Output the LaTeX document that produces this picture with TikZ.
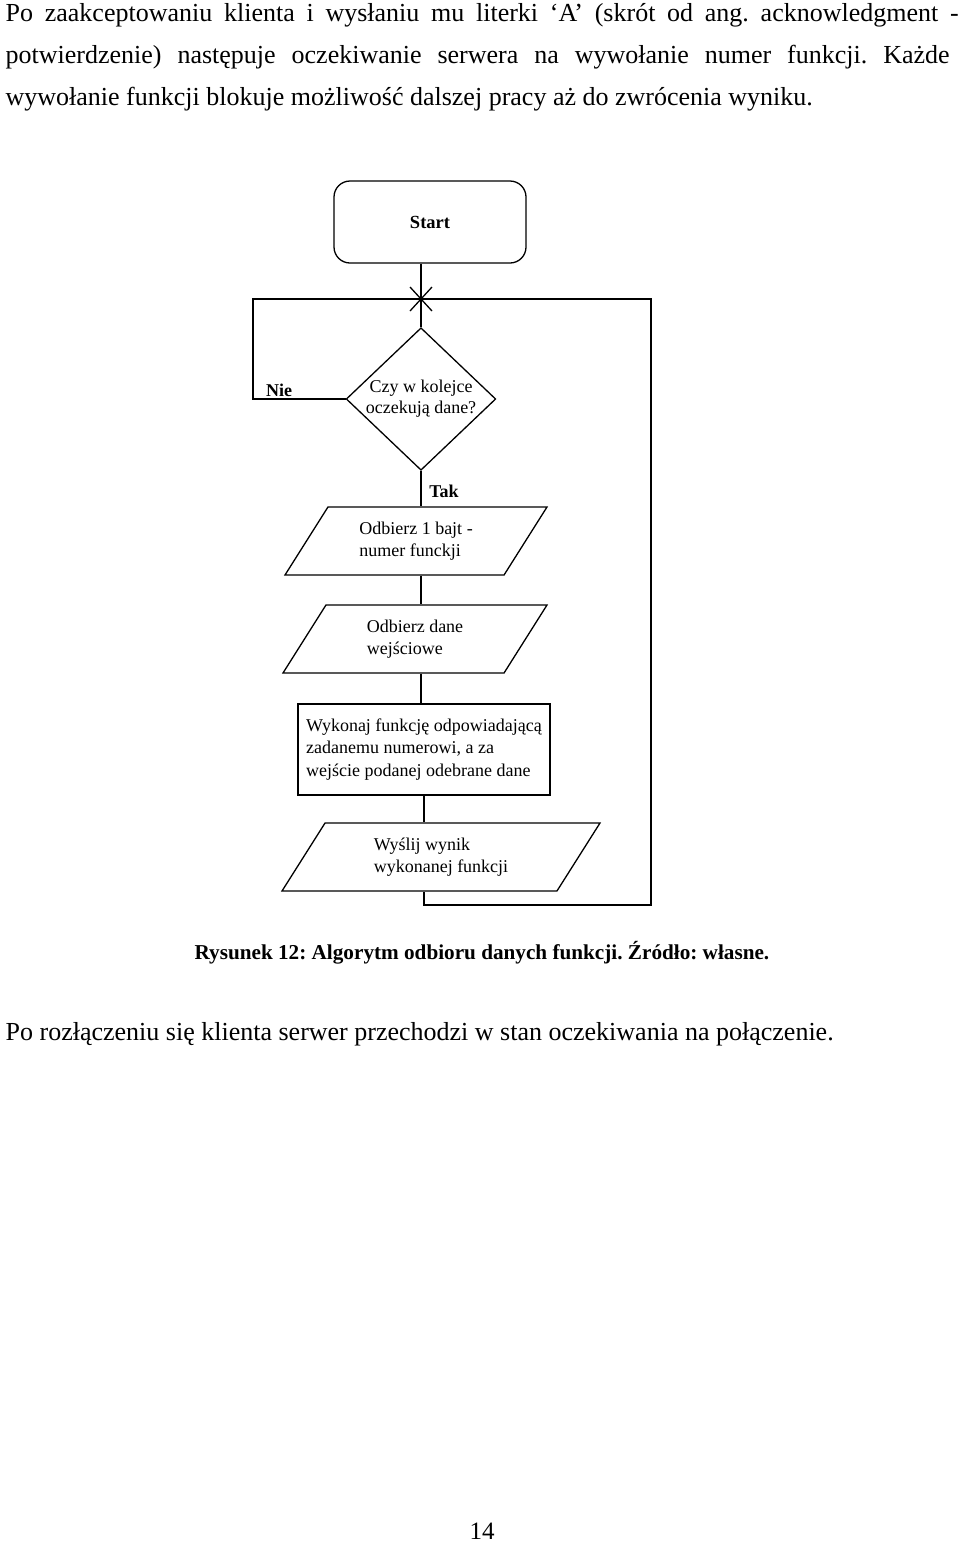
\documentclass[tikz,border=0pt]{standalone}
\usepackage{fontspec}
\setmainfont{Liberation Serif}
\usetikzlibrary{shapes.geometric}
\frenchspacing

\begin{document}
\begin{tikzpicture}[x=1pt, y=-1pt, line width=1.3pt,
  body/.style = {inner sep=0pt, font=\fontsize{26}{42}\selectfont},
  term/.style = {draw, rounded corners=16pt, minimum width=192pt, minimum height=82pt, font=\fontsize{18.5}{22.5}\selectfont\bfseries},
  decide/.style = {draw, diamond, inner sep=0pt, shape aspect=1.05, align=center, font=\fontsize{18}{21}\selectfont},
  io/.style = {draw, trapezium, trapezium left angle=46, trapezium right angle=134, trapezium stretches body, minimum height=68pt, align=left, font=\fontsize{18}{21.5}\selectfont},
  proc/.style = {draw, rectangle, minimum width=252pt, minimum height=91pt, inner sep=0pt, align=left, font=\fontsize{18}{22.5}\selectfont},
  lbl/.style = {inner sep=0pt, font=\fontsize{18}{22.5}\selectfont\bfseries}]
\path[use as bounding box, fill=white] (0,0) rectangle (960,1543);
\node[body, anchor=base west] (l1) at (5,21) {\makebox[953pt][s]{Po zaakceptowaniu klienta i wysłaniu mu literki ‘A’ (skrót od ang. acknowledgment -}};
\node[body, anchor=base west] (l2) at (5,63) {\makebox[944pt][s]{potwierdzenie) następuje oczekiwanie serwera na wywołanie numer funkcji. Każde}};
\node[body, anchor=base west] (l3) at (5,105) {wywołanie funkcji blokuje możliwość dalszej pracy aż do zwrócenia wyniku.};

\node[term] (start) at (430,222) {Start};
\coordinate (merge) at (421,299);
\coordinate (nw) at (253,299);
\coordinate (ne) at (651,299);
\coordinate (se) at (651,905);
\node[decide] (dec) at (421,399) {Czy w kolejce\\oczekują dane?};
\node[lbl] (nie) at (279,390) {Nie};
\node[lbl] (tak) at (444,491) {Tak};
\node[io, minimum width=262pt] (in1) at (416,541) {Odbierz 1 bajt -\\numer funckji};
\node[io, minimum width=264pt] (in2) at (415,639) {Odbierz dane\\wejściowe};
\node[proc] (exec) at (424,749.5) {Wykonaj funkcję odpowiadającą\\zadanemu numerowi, a za\\wejście podanej odebrane dane};
\node[io, minimum width=318pt] (out) at (441,857) {Wyślij wynik\\wykonanej funkcji};

\draw (start.south -| merge) -- (merge) -- (dec.north);
\draw ([shift={(-11,-12)}]merge) -- ([shift={(11,12)}]merge);
\draw ([shift={(-11,12)}]merge) -- ([shift={(11,-12)}]merge);
\draw (dec.west) -| (nw) -- (ne) -- (se) -| (out.south -| exec.south);
\draw (dec.south) -- (dec.south |- in1.north);
\draw (in1.south -| dec.south) -- (dec.south |- in2.north);
\draw (in2.south -| dec.south) -- (dec.south |- exec.north);
\draw (exec.south) -- (exec.south |- out.north);

\node[anchor=base, inner sep=0pt, font=\fontsize{21.2}{25}\selectfont\bfseries] (cap) at (482,959) {Rysunek 12: Algorytm odbioru danych funkcji. Źródło: własne.};
\node[body, anchor=base west] (l4) at (5,1040) {Po rozłączeniu się klienta serwer przechodzi w stan oczekiwania na połączenie.};
\node[anchor=base, inner sep=0pt, font=\fontsize{25}{30}\selectfont] (page) at (482,1539) {14};
\end{tikzpicture}
\end{document}
